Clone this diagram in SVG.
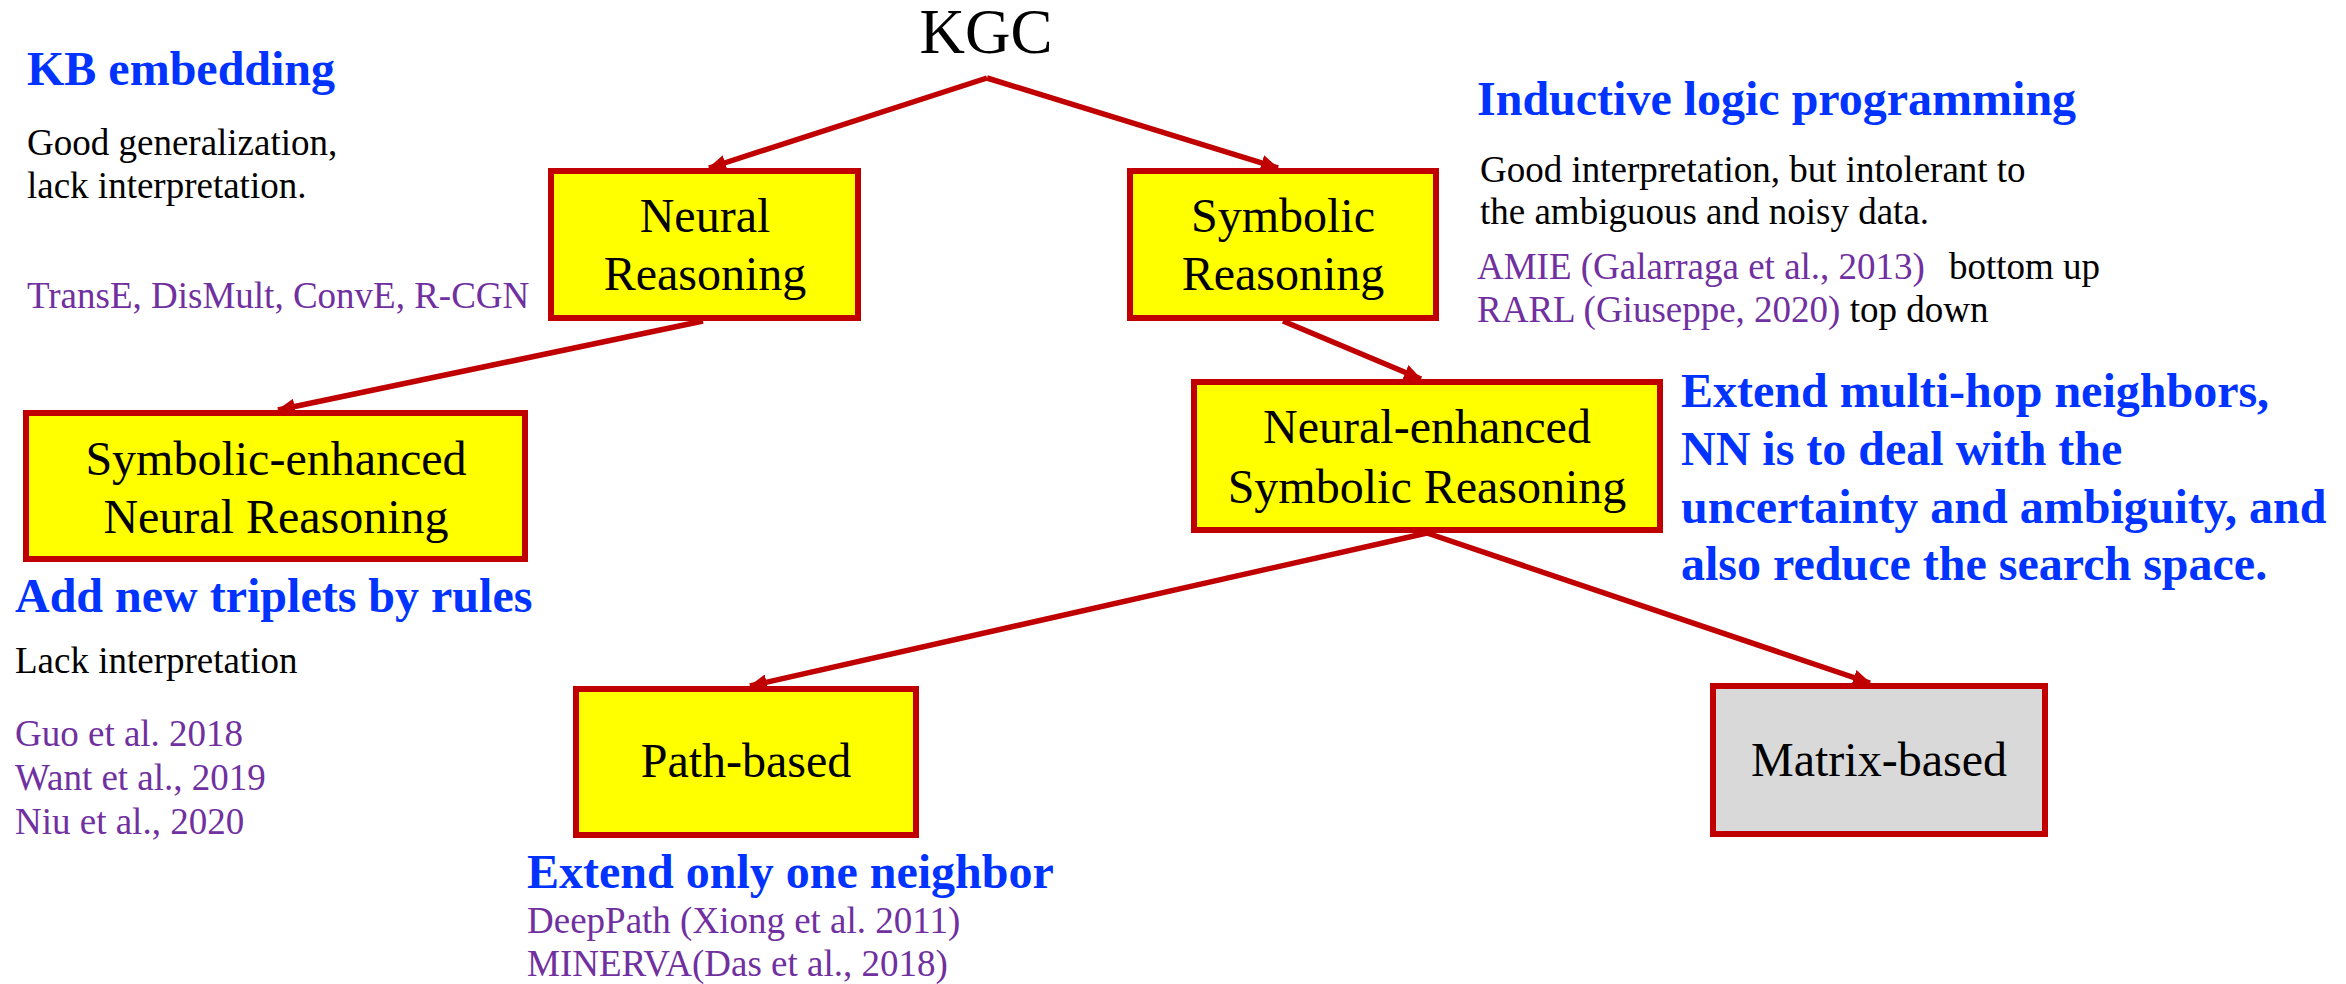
<svg xmlns="http://www.w3.org/2000/svg" width="2346" height="984" viewBox="0 0 2346 984" font-family="'Liberation Serif', 'Times New Roman', serif">
  <style>
    text, tspan { font-family: "Liberation Serif", "Times New Roman", serif; }
    .node { stroke: #C00000; stroke-width: 6; }
    .yellow { fill: #FFFF00; }
    .gray { fill: #D9D9D9; }
    .label { font-family: "Liberation Serif", "Times New Roman", serif; font-size: 48px; fill: #000; text-anchor: middle; }
    .head { font-family: "Liberation Serif", "Times New Roman", serif; font-size: 48px; font-weight: bold; fill: #0033FF; }
    .note { font-family: "Liberation Serif", "Times New Roman", serif; font-size: 37px; fill: #000; }
    .ref { font-family: "Liberation Serif", "Times New Roman", serif; font-size: 37px; fill: #7030A0; }
    .edge { stroke: #C00000; stroke-width: 5.5; fill: none; marker-end: url(#arrow); }
  </style>
  <defs>
    <marker id="arrow" markerUnits="userSpaceOnUse" markerWidth="18" markerHeight="16" refX="17" refY="8" orient="auto">
      <path d="M0,0 L18,8 L0,16 Z" fill="#C00000"/>
    </marker>
  </defs>
  <rect width="2346" height="984" fill="#FFFFFF"/>

  <!-- connectors -->
  <g id="connectors">
    <path class="edge" d="M987,78 L709,168"/>
    <path class="edge" d="M987,78 L1278,168"/>
    <path class="edge" d="M703,321 L278,410"/>
    <path class="edge" d="M1283,321 L1421,379"/>
    <path class="edge" d="M1427,533 L750,686"/>
    <path class="edge" d="M1427,533 L1870,683"/>
  </g>

  <!-- root -->
  <g id="kgc">
    <text x="986" y="53" font-size="63" text-anchor="middle" fill="#000">KGC</text>
  </g>

  <!-- tree nodes -->
  <g id="neural-reasoning">
    <rect class="node yellow" x="551" y="171" width="307" height="147"/>
    <text class="label" x="705" y="232">Neural</text>
    <text class="label" x="705" y="290">Reasoning</text>
  </g>
  <g id="symbolic-reasoning">
    <rect class="node yellow" x="1130" y="171" width="306" height="147"/>
    <text class="label" x="1283" y="232">Symbolic</text>
    <text class="label" x="1283" y="290">Reasoning</text>
  </g>
  <g id="symbolic-enhanced">
    <rect class="node yellow" x="26" y="413" width="499" height="146"/>
    <text class="label" x="276" y="475">Symbolic-enhanced</text>
    <text class="label" x="276" y="533">Neural Reasoning</text>
  </g>
  <g id="neural-enhanced">
    <rect class="node yellow" x="1194" y="382" width="466" height="148"/>
    <text class="label" x="1427" y="443">Neural-enhanced</text>
    <text class="label" x="1427" y="503">Symbolic Reasoning</text>
  </g>
  <g id="path-based">
    <rect class="node yellow" x="576" y="689" width="340" height="146"/>
    <text class="label" x="746" y="777">Path-based</text>
  </g>
  <g id="matrix-based">
    <rect class="node gray" x="1713" y="686" width="332" height="148"/>
    <text class="label" x="1879" y="776">Matrix-based</text>
  </g>

  <!-- annotations -->
  <g id="kb-embedding">
    <text class="head" x="27" y="85">KB embedding</text>
    <text class="note" x="27" y="155">Good generalization,</text>
    <text class="note" x="27" y="198">lack interpretation.</text>
    <text class="ref" x="27" y="308">TransE, DisMult, ConvE, R-CGN</text>
  </g>
  <g id="ilp">
    <text class="head" x="1477" y="115">Inductive logic programming</text>
    <text class="note" x="1480" y="182">Good interpretation, but intolerant to</text>
    <text class="note" x="1480" y="224">the ambiguous and noisy data.</text>
    <text class="ref" x="1477" y="279">AMIE (Galarraga et al., 2013)<tspan class="note" x="1949">bottom up</tspan></text>
    <text class="ref" x="1477" y="322">RARL (Giuseppe, 2020) <tspan class="note">top down</tspan></text>
  </g>
  <g id="rules">
    <text class="head" x="15" y="612">Add new triplets by rules</text>
    <text class="note" x="15" y="673">Lack interpretation</text>
    <text class="ref" x="15" y="746">Guo et al. 2018</text>
    <text class="ref" x="15" y="790">Want et al., 2019</text>
    <text class="ref" x="15" y="834">Niu et al., 2020</text>
  </g>
  <g id="multi-hop">
    <text class="head" x="1681" y="407">Extend multi-hop neighbors,</text>
    <text class="head" x="1681" y="465">NN is to deal with the</text>
    <text class="head" x="1681" y="523">uncertainty and ambiguity, and</text>
    <text class="head" x="1681" y="580">also reduce the search space.</text>
  </g>
  <g id="one-neighbor">
    <text class="head" x="527" y="888">Extend only one neighbor</text>
    <text class="ref" x="527" y="933">DeepPath (Xiong et al. 2011)</text>
    <text class="ref" x="527" y="976">MINERVA(Das et al., 2018)</text>
  </g>
</svg>
